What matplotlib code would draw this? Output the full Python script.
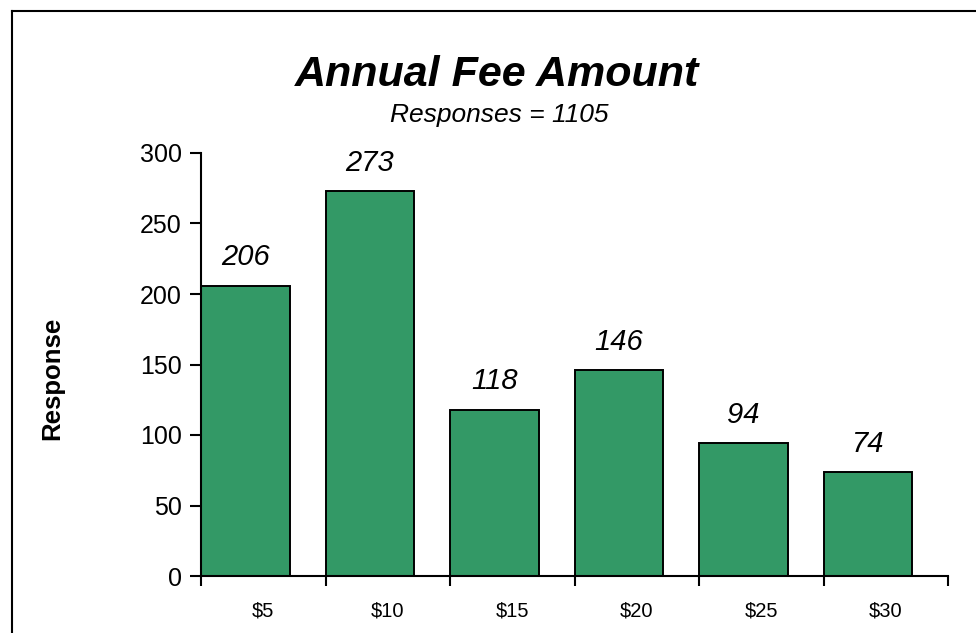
import matplotlib
matplotlib.use('Agg')
import matplotlib.pyplot as plt
from matplotlib.lines import Line2D

categories = ['$5', '$10', '$15', '$20', '$25', '$30']
values = [206, 273, 118, 146, 94, 74]
title = 'Annual Fee Amount'
subtitle = 'Responses = 1105'
ylabel = 'Response'
yticks = [0, 50, 100, 150, 200, 250, 300]

plt.rcParams['font.family'] = ['Liberation Sans', 'DejaVu Sans']

W, H = 976, 633
fig = plt.figure(figsize=(W / 100, H / 100), dpi=100)
ax = fig.add_axes([201 / W, 1 - 576 / H, (948 - 201) / W, (576 - 153) / H])

n = len(values)
bw = 0.712
lefts = [i - 0.5 for i in range(n)]
ax.bar(lefts, values, width=bw, align='edge', color='#339966',
       edgecolor='black', linewidth=1.4, zorder=2)

for l, v in zip(lefts, values):
    ax.annotate(str(v), (l + bw / 2, v), xytext=(0, 14.5), textcoords='offset points',
                ha='center', va='baseline', fontsize=21, fontstyle='italic')

ax.set_xlim(-0.5, n - 0.5)
ax.set_ylim(0, 300)
ax.set_yticks(yticks)
ax.set_yticklabels([str(t) for t in yticks], fontsize=18)
ax.set_xticks(range(n))
ax.set_xticklabels(categories, fontsize=14.5)
ax.set_xticks([i - 0.5 for i in range(n + 1)], minor=True)
ax.tick_params(axis='x', which='major', length=0, pad=18)
ax.tick_params(axis='x', which='minor', length=7, width=1.5, direction='out')
ax.tick_params(axis='y', which='major', length=8, width=1.5, direction='out', pad=6)
for s in ['top', 'right']:
    ax.spines[s].set_visible(False)
for s in ['left', 'bottom']:
    ax.spines[s].set_linewidth(1.5)

fig.text(52 / W, 1 - 378 / H, ylabel, rotation=90, ha='center', va='center',
         fontsize=18.5, fontweight='bold')
fig.text(497 / W, 1 - 86 / H, title, ha='center', va='baseline',
         fontsize=31, fontweight='bold', fontstyle='italic')
fig.text(499 / W, 1 - 122 / H, subtitle, ha='center', va='baseline',
         fontsize=19, fontstyle='italic')

fig.add_artist(Line2D([11.8 / W, 11.8 / W], [0, 1 - 10.5 / H], transform=fig.transFigure,
                      color='black', lw=1.5))
fig.add_artist(Line2D([11.8 / W, 1], [1 - 10.5 / H, 1 - 10.5 / H], transform=fig.transFigure,
                      color='black', lw=1.5))

fig.savefig('out.png', dpi=100)
